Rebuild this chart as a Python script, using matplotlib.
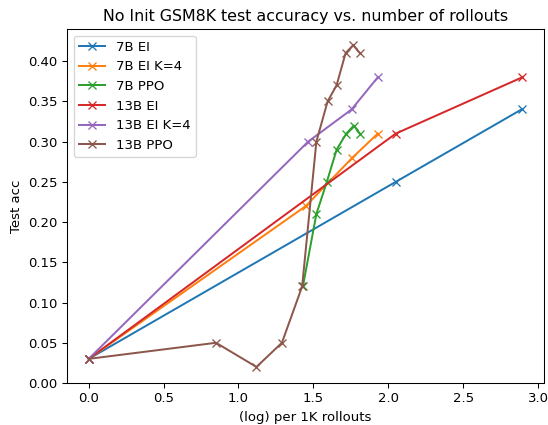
import numpy as np
import matplotlib
matplotlib.use("Agg")
import matplotlib.pyplot as plt

# 数据 (log) per 1K rollouts -> test acc
labels = ["7B EI", "7B EI K=4", "7B PPO", "13B EI", "13B EI K=4", "13B PPO"]

x_7b_ei = [0.0, 2.05, 2.89]
y_7b_ei = [0.03, 0.25, 0.34]

x_7b_ei_k4 = [0.0, 1.45, 1.76, 1.93]
y_7b_ei_k4 = [0.03, 0.22, 0.28, 0.31]

x_7b_ppo = [1.43, 1.52, 1.59, 1.655, 1.72, 1.77, 1.81]
y_7b_ppo = [0.12, 0.21, 0.25, 0.29, 0.31, 0.32, 0.31]

x_13b_ei = [0.0, 2.05, 2.895]
y_13b_ei = [0.03, 0.31, 0.38]

x_13b_ei_k4 = [0.0, 1.465, 1.755, 1.93]
y_13b_ei_k4 = [0.03, 0.30, 0.34, 0.38]

x_13b_ppo = [0.0, 0.85, 1.12, 1.29, 1.425, 1.52, 1.595, 1.655, 1.715, 1.766, 1.81]
y_13b_ppo = [0.03, 0.05, 0.02, 0.05, 0.12, 0.30, 0.35, 0.37, 0.41, 0.42, 0.41]

series = [
    (x_7b_ei, y_7b_ei),
    (x_7b_ei_k4, y_7b_ei_k4),
    (x_7b_ppo, y_7b_ppo),
    (x_13b_ei, y_13b_ei),
    (x_13b_ei_k4, y_13b_ei_k4),
    (x_13b_ppo, y_13b_ppo),
]

# 原图像是缩小过的, 用较小的 dpi 模拟
dpi = 95
fig, ax = plt.subplots(figsize=(548 / dpi, 425 / dpi), dpi=dpi)
fig.subplots_adjust(left=0.1223, right=0.9927, top=0.9318, bottom=0.0988)

for (xs, ys), name in zip(series, labels):
    ax.plot(xs, ys, marker="x", label=name)

ax.set_ylim(0.0, 0.44)
ax.set_title("No Init GSM8K test accuracy vs. number of rollouts")
ax.set_xlabel("(log) per 1K rollouts")
ax.set_ylabel("Test acc")
ax.legend(loc="upper left")

fig.savefig("out.png", dpi=dpi)
